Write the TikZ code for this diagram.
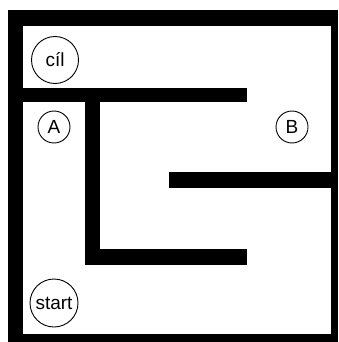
\documentclass[tikz,border=0pt]{standalone}
\usepackage{fontspec}
\setmainfont{Liberation Sans}
\begin{document}
\begin{tikzpicture}[x=1pt,y=-1pt,
  wall/.style={fill=black,draw=none},
  place/.style={circle,draw=black,line width=0.9pt,inner sep=0pt,font=\fontsize{19}{19}\selectfont}]
\useasboundingbox (0,0) rectangle (338,342);
% outer frame
\fill[black] (8,10) rectangle (338,342);
\fill[white] (23,26) rectangle (331,334);
% inner walls
\path[wall] (23,88) rectangle (247,102);
\path[wall] (85,101) rectangle (100,265);
\path[wall] (85,249) rectangle (247,265);
\path[wall] (169,172) rectangle (331,188);
% places
\node[place,minimum size=47pt] (cil) at (55,60) {cíl};
\node[place,minimum size=32pt] (A) at (54,127) {A};
\node[place,minimum size=32pt] (B) at (292,127) {B};
\node[place,minimum size=48pt] (start) at (54,303) {start};
\end{tikzpicture}
\end{document}
